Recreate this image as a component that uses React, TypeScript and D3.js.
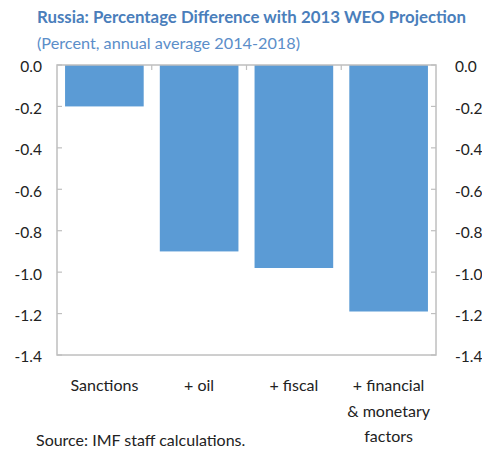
import React from "react";
import * as d3 from "d3";

const categories: string[][] = [["Sanctions"], ["+ oil"], ["+ fiscal"], ["+ financial", "& monetary", "factors"]];
const values: number[] = [-0.2, -0.9, -0.98, -1.19];
const ticks: number[] = [0, -0.2, -0.4, -0.6, -0.8, -1.0, -1.2, -1.4];
const title = "Russia: Percentage Difference with 2013 WEO Projection";
const subtitle = "(Percent, annual average 2014-2018)";
const source = "Source: IMF staff calculations.";

const W = 482, H = 451;
const left = 57, right = 436, top = 65, bottom = 355;
const font = "Lato, 'Open Sans', sans-serif";

export default function App() {
  const x = d3.scaleBand<number>().domain(d3.range(values.length)).range([left, right]).paddingInner(0.17).paddingOuter(0.085);
  const y = d3.scaleLinear().domain([0, -1.4]).range([top, bottom]);
  const bandStep = (right - left) / values.length;
  const grid = "#bfbfbf";
  return (
    <svg width={W} height={H} style={{ position: "absolute", left: 0, top: 0, background: "#fff" }} fontFamily={font}>
      <text x={37} y={23} fontSize={17.5} fontWeight="bold" fill="#4a7ebb" textLength={429} lengthAdjust="spacingAndGlyphs">{title}</text>
      <text x={37} y={49} fontSize={16} fill="#5b8ec9" textLength={263} lengthAdjust="spacingAndGlyphs">{subtitle}</text>
      {values.map((v, i) => (
        <rect key={i} x={x(i)} y={y(0)} width={x.bandwidth()} height={y(v) - y(0)} fill="#5b9bd5" />
      ))}
      <rect x={left} y={top} width={right - left} height={bottom - top} fill="none" stroke={grid} strokeWidth={1.5} />
      {ticks.map((t, i) => (
        <g key={i}>
          <line x1={left} x2={left + 5} y1={y(t)} y2={y(t)} stroke={grid} strokeWidth={1.2} />
          <line x1={right} x2={right - 5} y1={y(t)} y2={y(t)} stroke={grid} strokeWidth={1.2} />
          <text x={42} y={y(t) + 2} dy="0.35em" fontSize={15.5} textAnchor="end" fill="#222">{d3.format(".1f")(t).replace("−", "-")}</text>
          <text x={455} y={y(t) + 2} dy="0.35em" fontSize={15.5} textAnchor="start" fill="#222">{d3.format(".1f")(t).replace("−", "-")}</text>
        </g>
      ))}
      {d3.range(1, values.length).map((i) => (
        <line key={i} x1={left + bandStep * i} x2={left + bandStep * i} y1={top} y2={top + 5} stroke={grid} strokeWidth={1.2} />
      ))}
      {categories.map((lines, i) => (
        <text key={i} fontSize={16} textAnchor="middle" fill="#222">
          {lines.map((l, j) => (
            <tspan key={j} x={(x(i) as number) + x.bandwidth() / 2} y={391 + j * 25.5}>{l}</tspan>
          ))}
        </text>
      ))}
      <text x={36} y={446} fontSize={16} fill="#222">{source}</text>
    </svg>
  );
}
